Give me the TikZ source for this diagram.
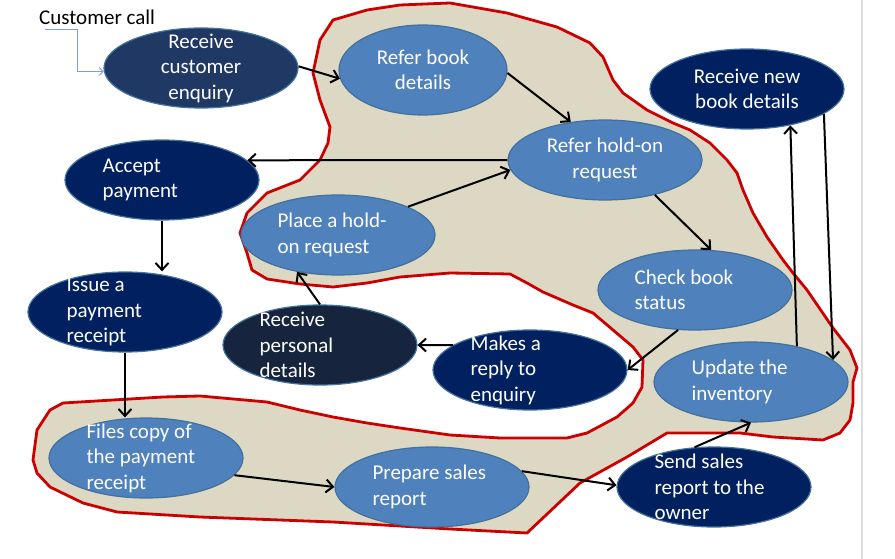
\documentclass[tikz,border=0pt]{standalone}
\usepackage{fontspec}
\setmainfont{Carlito}
\usetikzlibrary{arrows.meta,shapes.geometric}
\definecolor{beige}{HTML}{DDD8C4}
\definecolor{redline}{HTML}{CC0000}
\definecolor{lightblue}{HTML}{4F81BD}
\definecolor{navy}{HTML}{002060}
\definecolor{darkA}{HTML}{1F3864}
\definecolor{darkB}{HTML}{16243E}
\definecolor{edge}{HTML}{41719C}
\definecolor{callline}{HTML}{7F9FD0}
\definecolor{slideedge}{HTML}{DCDCDC}
\begin{document}
\begin{tikzpicture}[x=1pt,y=-1pt,
  ell/.style={ellipse, draw=edge, line width=1.2pt, minimum width=194pt, minimum height=80pt, inner sep=0pt},
  lt/.style={ell, fill=lightblue},
  nv/.style={ell, fill=navy},
  txt/.style={text=white, font=\fontsize{21}{25.5}\selectfont, inner sep=0pt},
  txtc/.style={txt, align=center},
  txtl/.style={txt, align=left, anchor=west},
  arr/.style={draw=black, line width=2pt, -{Straight Barb[length=7pt,width=13pt,line width=2pt]}},
]
\useasboundingbox (0,0) rectangle (895,559);
\fill[white] (0,0) rectangle (895,559);
\draw[line width=2.5pt, slideedge] (862,0) -- (862,559);

% blob
\draw[fill=beige, draw=redline, line width=2.8pt, line join=round]
 (367,10) -- (400,5) -- (450,3) -- (507,13) -- (557,27) -- (590,43) -- (603,57) -- (613,80)
 -- (623,93) -- (647,110) -- (673,123) -- (690,130) -- (710,143) -- (727,160) -- (737,173)
 -- (743,190) -- (753,213) -- (767,237) -- (783,260) -- (793,273) -- (807,290) -- (833,328)
 -- (850,350) -- (857,368) -- (853,382) -- (853,403) -- (850,420) -- (840,433) -- (823,440)
 -- (773,437) -- (740,433) -- (667,433) -- (627,457) -- (580,483) -- (527,533) -- (450,529)
 -- (333,522) -- (200,517) -- (117,512) -- (83,503) -- (50,487) -- (37,473) -- (33,460)
 -- (37,430) -- (50,410) -- (63,403) -- (163,397) -- (200,396) -- (267,402) -- (300,410)
 -- (333,417) -- (367,423) -- (400,428) -- (450,435) -- (500,438) -- (567,438) -- (587,433)
 -- (617,417) -- (633,403) -- (642,387) -- (643,360) -- (633,347) -- (613,330) -- (593,313)
 -- (573,305) -- (543,292) -- (527,283) -- (510,274) -- (450,273) -- (400,277) -- (367,283)
 -- (333,287) -- (300,284) -- (267,279) -- (252,270) -- (247,253) -- (240,233) -- (247,213)
 -- (267,193) -- (300,180) -- (320,160) -- (328,143) -- (330,127) -- (320,100) -- (313,73)
 -- (320,40) -- (333,20) -- cycle;

% ellipses
\node[ell, fill=darkA] (rce) at (201,68) {};
\node[lt, minimum width=168pt, minimum height=90pt] (rbd) at (423,70) {};
\node[nv] (rnbd) at (747,89) {};
\node[lt] (rho) at (605,160) {};
\node[nv] (ap) at (162,180) {};
\node[lt] (phr) at (338,235) {};
\node[lt] (cbs) at (695,290) {};
\node[nv] (ipr) at (125,312) {};
\node[ell, fill=darkB] (rpd) at (320,345) {};
\node[nv] (mr) at (530,370) {};
\node[lt] (uti) at (751,382) {};
\node[lt] (fcp) at (146,458) {};
\node[lt] (psr) at (432,487) {};
\node[nv] (sst) at (714,487) {};

% customer call
\node[font=\fontsize{21}{25}\selectfont, anchor=west, inner sep=0pt] (cc) at (39,17) {Customer call};
\coordinate (ccstart) at (45,29);
\coordinate (ccbend) at (77,29);
\draw[callline, line width=0.9pt, -{Straight Barb[length=4pt,width=8pt,line width=0.9pt]}] (ccstart) -- (ccbend) |- (rce.182);

% connectors
\draw[arr] (rce.1) -- (rbd.186);
\draw[arr] (rbd.358) -- (rho.132);
\draw[arr] (rho.west) -- (ap.13);
\draw[arr] (phr.22) -- (rho.186);
\draw[arr] (rho.325) -- (cbs.68);
\draw[arr] (ap.south) -- (ap.south |- ipr.north);
\draw[arr] (ipr.south) -- (ipr.south |- fcp.north);
\draw[arr] (rpd.north) -- (phr.222);
\draw[arr] (mr.162) -- (rpd.east);
\draw[arr] (cbs.247) -- (mr.east);
\draw[arr] (uti.38) -- (rnbd.320);
\draw[arr] (rnbd.342) -- (uti.15);
\draw[arr] (fcp.349) -- (psr.west);
\draw[arr] (psr.10) -- (sst.179);
\draw[arr] (sst.116) -- (uti.south);

% texts
\node[txtc] (t-rce) at (rce) {Receive\\customer\\enquiry};
\node[txtc] (t-rbd) at (rbd) {Refer book\\details};
\node[txtc] (t-rnbd) at (rnbd) {Receive new\\book details};
\node[txtc] (t-rho) at (rho) {Refer hold-on\\request};
\node[txtl] (t-ap) at ([xshift=38pt]ap.west) {Accept\\payment};
\node[txtl] (t-phr) at ([xshift=37pt]phr.west) {Place a hold-\\on request};
\node[txtl] (t-cbs) at ([xshift=37pt]cbs.west) {Check book\\status};
\node[txtl] (t-ipr) at ([xshift=39pt]ipr.west) {Issue a\\payment\\receipt};
\node[txtl] (t-rpd) at ([xshift=37pt]rpd.west) {Receive\\personal\\details};
\node[txtl] (t-mr) at ([xshift=38pt]mr.west) {Makes a\\reply to\\enquiry};
\node[txtl] (t-uti) at ([xshift=38pt]uti.west) {Update the\\inventory};
\node[txtl] (t-fcp) at ([xshift=38pt]fcp.west) {Files copy of\\the payment\\receipt};
\node[txtl] (t-psr) at ([xshift=38pt]psr.west) {Prepare sales\\report};
\node[txtl] (t-sst) at ([xshift=38pt]sst.west) {Send sales\\report to the\\owner};
\end{tikzpicture}
\end{document}
